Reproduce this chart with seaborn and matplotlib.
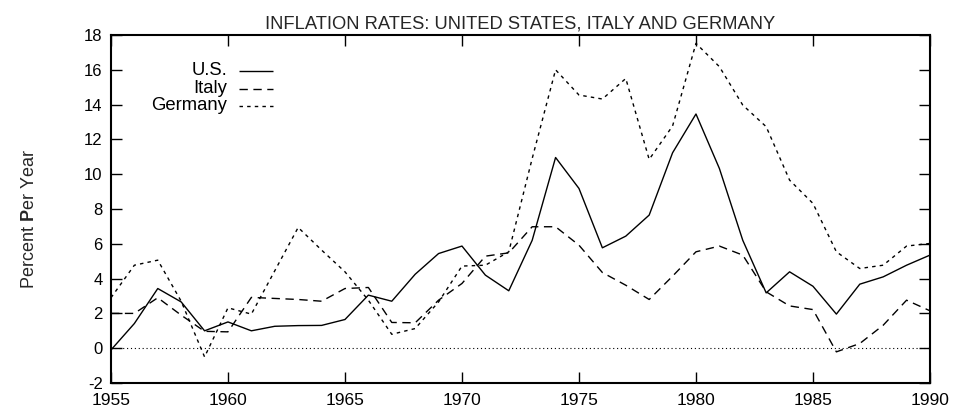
import matplotlib
matplotlib.use("Agg")
import matplotlib.pyplot as plt
import seaborn as sns
import pandas as pd

years = list(range(1955, 1991))
us = [-0.1, 1.42, 3.43, 2.66, 1.0, 1.51, 1.0, 1.26, 1.3, 1.31, 1.65, 3.05, 2.7, 4.25,
      5.44, 5.87, 4.2, 3.3, 6.2, 10.96, 9.18, 5.77, 6.44, 7.65, 11.23, 13.46,
      10.33, 6.2, 3.18, 4.39, 3.56, 1.96, 3.68, 4.1, 4.77, 5.35]
italy = [2.0, 2.0, 2.9, 1.9, 0.97, 0.94, 2.92, 2.86, 2.8, 2.7, 3.43, 3.49, 1.48, 1.46,
         2.76, 3.72, 5.29, 5.48, 6.98, 6.98, 5.92, 4.35, 3.62, 2.8, 4.14, 5.54,
         5.87, 5.35, 3.24, 2.43, 2.22, -0.21, 0.27, 1.32, 2.76, 2.15]
germany = [2.9, 4.77, 5.06, 2.7, -0.5, 2.32, 1.96, 4.45, 6.94, 5.64, 4.39, 2.76, 0.8, 1.13,
           2.66, 4.72, 4.77, 5.54, 10.9, 16.0, 14.55, 14.32, 15.5, 10.85, 12.77, 17.52,
           16.18, 13.97, 12.73, 9.66, 8.32, 5.54, 4.58, 4.77, 5.87, 6.02]
series_names = ["U.S.", "Italy", "Germany"]
xticks = [1955, 1960, 1965, 1970, 1975, 1980, 1985, 1990]
yticks = list(range(-2, 19, 2))

df = pd.DataFrame({"year": years * 3,
                   "rate": us + italy + germany,
                   "series": [s for s in series_names for _ in years]})

sns.set_theme(style="ticks")
plt.rcParams["font.family"] = ["Liberation Sans", "DejaVu Sans"]
plt.rcParams["mathtext.fontset"] = "custom"
plt.rcParams["mathtext.bf"] = "Liberation Sans:bold"
plt.rcParams["mathtext.rm"] = "Liberation Sans"

fig = plt.figure(figsize=(9.55, 4.18), dpi=100)
ax = fig.add_axes([0.1162, 0.0837, 0.9738 - 0.1162, 0.9163 - 0.0837])

styles = {"U.S.": (0, ()), "Italy": (0, (6, 4)), "Germany": (0, (2.5, 3))}
for name in series_names:
    sub = df[df["series"] == name]
    sns.lineplot(data=sub, x="year", y="rate", ax=ax, color="black", lw=1.0,
                 linestyle=styles[name], legend=False)

ax.axhline(0, color="black", lw=0.8, linestyle=(0, (1, 2.5)))

ax.set_xlim(1955, 1990)
ax.set_ylim(-2, 18)
ax.set_xticks(xticks)
ax.set_yticks(yticks)
ax.set_xticklabels([str(t) for t in xticks])
ax.set_yticklabels([str(t) for t in yticks])
ax.tick_params(direction="in", length=8, width=1, top=True, right=True,
               labelsize=12, colors="black", pad=6)
ax.tick_params(axis="x", pad=7, labelsize=12.5)
for sp in ax.spines.values():
    sp.set_visible(True)
    sp.set_linewidth(1.5)
    sp.set_color("black")

ax.set_xlabel("")
ax.set_ylabel("Percent $\\mathbf{P}$er Year", fontsize=13)
ax.yaxis.set_label_coords(-0.089, 0.47)
ax.set_title("INFLATION RATES: UNITED STATES, ITALY AND GERMANY", fontsize=13.2, pad=5)

# key: right-aligned labels with line samples on the right
key_y = [0.8966, 0.846, 0.796]
for name, yk in zip(series_names, key_y):
    ax.text(0.1416, yk, name, transform=ax.transAxes, ha="right", va="center",
            fontsize=13.3, color="black")
    ax.plot([0.156, 0.198], [yk, yk], transform=ax.transAxes, color="black",
            lw=1.0, linestyle=styles[name])

fig.savefig("out.png", dpi=100, facecolor="white")
